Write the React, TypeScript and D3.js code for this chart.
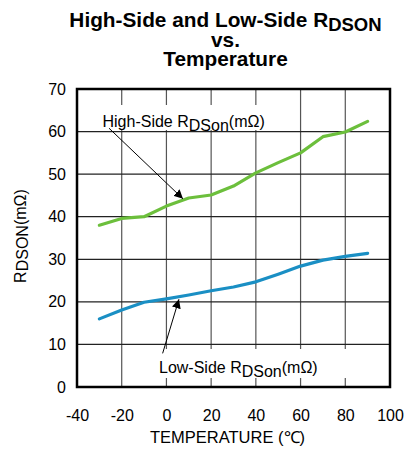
import * as React from 'react';
import * as d3 from 'd3';

const TEMPS = [-30, -20, -10, 0, 10, 20, 30, 40, 50, 60, 70, 80, 90];
const HIGH_SIDE = [38, 39.6, 40, 42.5, 44.4, 45.1, 47.2, 50.3, 52.7, 55, 58.8, 59.9, 62.4];
const LOW_SIDE = [16, 18.1, 19.9, 20.7, 21.6, 22.6, 23.5, 24.7, 26.5, 28.4, 29.8, 30.7, 31.4];
const X_TICKS = [-40, -20, 0, 20, 40, 60, 80, 100];
const Y_TICKS = [0, 10, 20, 30, 40, 50, 60, 70];

// annotation arrows in data units: [fromTemp, fromVal, toTemp, toVal]
const HIGH_ARROW = [-25.7, 60.8, 7.4, 44.2];
const LOW_ARROW = [-1.7, 7.9, 5.6, 20.6];

const FONT = '"Liberation Sans", Arial, sans-serif';

interface Pt {
    t: number;
    v: number;
}

export default function App() {
    const svgRef = React.useRef<SVGSVGElement>(null);

    React.useEffect(() => {
        const svg = d3.select(svgRef.current);
        svg.selectAll('*').remove();

        const LEFT = 77;
        const RIGHT = 390;
        const TOP = 89;
        const BOTTOM = 387;

        const x = d3.scaleLinear().domain([-40, 100]).range([LEFT, RIGHT]);
        const y = d3.scaleLinear().domain([0, 70]).range([BOTTOM, TOP]);

        /** ******** Title ********* */
        const title = svg
            .append('text')
            .attr('text-anchor', 'middle')
            .attr('font-family', FONT)
            .attr('font-weight', 'bold')
            .attr('font-size', 20.8);
        const l1 = title.append('tspan').attr('x', 225.5).attr('y', 26.5);
        l1.append('tspan').text('High-Side and Low-Side R');
        l1.append('tspan').attr('dy', 4).attr('font-size', 18.5).text('DSON');
        title.append('tspan').attr('x', 225.5).attr('y', 46.5).text('vs.');
        title.append('tspan').attr('x', 225.5).attr('y', 66).text('Temperature');

        /** ******** Grid ********* */
        svg.append('g')
            .selectAll('line')
            .data(X_TICKS.slice(1, -1))
            .enter()
            .append('line')
            .attr('x1', d => x(d))
            .attr('x2', d => x(d))
            .attr('y1', TOP)
            .attr('y2', BOTTOM)
            .attr('stroke', '#555')
            .attr('stroke-width', 1.2);

        // white boxes behind the annotation labels
        svg.append('rect').attr('x', 100).attr('y', 105).attr('width', 176).attr('height', 25).attr('fill', '#fff');
        svg.append('rect').attr('x', 156).attr('y', 349).attr('width', 195).attr('height', 29).attr('fill', '#fff');

        svg.append('g')
            .selectAll('line')
            .data(Y_TICKS.slice(1, -1))
            .enter()
            .append('line')
            .attr('x1', LEFT)
            .attr('x2', RIGHT)
            .attr('y1', d => y(d))
            .attr('y2', d => y(d))
            .attr('stroke', '#222')
            .attr('stroke-width', 1.2);

        /** ******** Lines ********* */
        const line = d3
            .line<Pt>()
            .x(d => x(d.t))
            .y(d => y(d.v));
        const series: [number[], string][] = [
            [HIGH_SIDE, '#6cbf3c'],
            [LOW_SIDE, '#1a8fc4']
        ];
        series.forEach(([vals, color]) => {
            svg.append('path')
                .datum(TEMPS.map((t, i) => ({ t, v: vals[i] })))
                .attr('fill', 'none')
                .attr('stroke', color)
                .attr('stroke-width', 3.2)
                .attr('stroke-linejoin', 'round')
                .attr('stroke-linecap', 'round')
                .attr('d', line);
        });

        /** ******** Frame ********* */
        svg.append('rect')
            .attr('x', LEFT)
            .attr('y', TOP)
            .attr('width', RIGHT - LEFT)
            .attr('height', BOTTOM - TOP)
            .attr('fill', 'none')
            .attr('stroke', '#000')
            .attr('stroke-width', 2.5);

        /** ******** Axes ********* */
        const fmt = (d: d3.NumberValue) => String(d);
        const yAxis = d3.axisLeft(y).tickValues(Y_TICKS).tickSize(0).tickPadding(11).tickFormat(fmt);
        const xAxis = d3.axisBottom(x).tickValues(X_TICKS).tickSize(0).tickPadding(23).tickFormat(fmt);
        const yAxisDom = svg.append('g').attr('transform', `translate(${LEFT},0)`).call(yAxis);
        const xAxisDom = svg.append('g').attr('transform', `translate(0,${BOTTOM})`).call(xAxis);
        [yAxisDom, xAxisDom].forEach(a => {
            a.select('.domain').remove();
            a.selectAll('text').attr('font-family', FONT).attr('font-size', 16).attr('fill', '#000');
        });

        svg.append('text')
            .attr('x', 227.5)
            .attr('y', 443)
            .attr('text-anchor', 'middle')
            .attr('font-family', FONT)
            .attr('font-size', 16.5)
            .text('TEMPERATURE (℃)');

        const yLabel = svg
            .append('text')
            .attr('transform', 'translate(26,236) rotate(-90)')
            .attr('text-anchor', 'middle')
            .attr('font-family', FONT)
            .attr('font-size', 16);
        yLabel.append('tspan').text('R');
        yLabel.append('tspan').attr('dy', 2).text('DSON');
        yLabel.append('tspan').attr('dy', -2).text('(mΩ)');

        /** ******** Annotations ********* */
        const defs = svg.append('defs');
        defs.append('marker')
            .attr('id', 'arrow')
            .attr('viewBox', '0 0 10 10')
            .attr('refX', 10)
            .attr('refY', 5)
            .attr('markerWidth', 9)
            .attr('markerHeight', 9)
            .attr('markerUnits', 'userSpaceOnUse')
            .attr('orient', 'auto')
            .append('path')
            .attr('d', 'M0,0L10,5L0,10Z')
            .attr('fill', '#000');

        [HIGH_ARROW, LOW_ARROW].forEach(a => {
            svg.append('line')
                .attr('x1', x(a[0]))
                .attr('y1', y(a[1]))
                .attr('x2', x(a[2]))
                .attr('y2', y(a[3]))
                .attr('stroke', '#000')
                .attr('stroke-width', 1)
                .attr('marker-end', 'url(#arrow)');
        });

        const labels: [string, number, number][] = [
            ['High-Side R', 102.5, 126.5],
            ['Low-Side R', 159, 372.5]
        ];
        labels.forEach(([txt, lx, ly]) => {
            const t = svg
                .append('text')
                .attr('x', lx)
                .attr('y', ly)
                .attr('font-family', FONT)
                .attr('font-size', 16);
            t.append('tspan').text(txt);
            t.append('tspan').attr('dy', 4).text('DSon');
            t.append('tspan').attr('dy', -4).text('(mΩ)');
        });
    });

    return (
        <svg
            ref={svgRef}
            width={405}
            height={450}
            style={{ position: 'absolute', left: 0, top: 0, background: '#fff' }}
        />
    );
}
